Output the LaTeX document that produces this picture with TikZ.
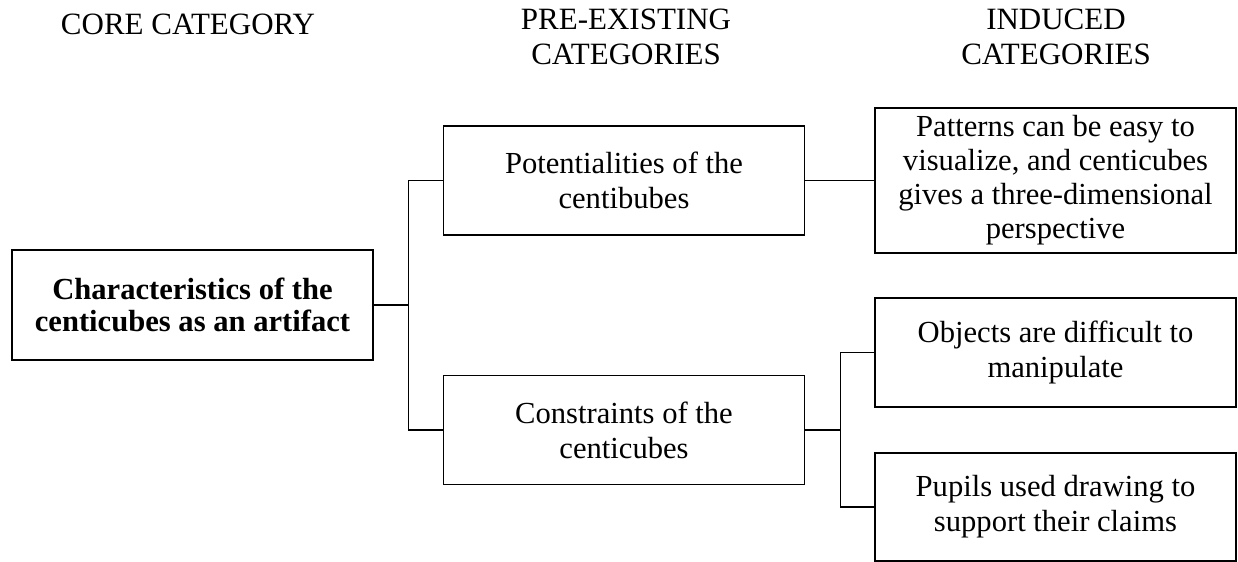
\documentclass[tikz,border=0pt]{standalone}
\usepackage{fontspec}
\setmainfont{Liberation Serif}
\usetikzlibrary{positioning}
\begin{document}
\begin{tikzpicture}[x=0.5pt,y=-0.5pt,
    box/.style={draw,line width=0.7pt,minimum width=180.5pt,minimum height=54.5pt,
      inner sep=2pt,align=center,font=\fontsize{15.3}{17.5}\selectfont},
    head/.style={align=center,font=\fontsize{15.5}{17.5}\selectfont}]
    \useasboundingbox (0,0) rectangle (1238,562);
    \node[head] (hcore) at (188,24) {CORE CATEGORY};
    \node[head] (hpre) at (626,37) {PRE-EXISTING\\CATEGORIES};
    \node[head] (hind) at (1056,37) {INDUCED\\CATEGORIES};
    \node[box,minimum height=55pt,font=\fontsize{15.3}{16}\selectfont\bfseries] (core) at (192.5,305)
      {Characteristics of the\\centicubes as an artifact};
    \node[box] (pot) at (624,180.5) {Potentialities of the\\centibubes};
    \node[box] (con) at (624,430) {Constraints of the\\centicubes};
    \node[box,minimum height=72.5pt,font=\fontsize{15.3}{17}\selectfont] (pat) at (1055.5,180.5)
      {Patterns can be easy to\\visualize, and centicubes\\gives a three-dimensional\\perspective};
    \node[box] (obj) at (1055.5,352.5) {Objects are difficult to\\manipulate};
    \node[box,minimum height=54pt] (pup) at (1055.5,507) {Pupils used drawing to\\support their claims};
    \coordinate[right=17.5pt of core.east] (j1);
    \coordinate[right=17.5pt of con.east] (j2);
    \draw[line width=0.7pt] (core.east) -- (j1) |- (pot.west);
    \draw[line width=0.7pt] (j1) |- (con.west);
    \draw[line width=0.7pt] (pot.east) -- (pat.west);
    \draw[line width=0.7pt] (con.east) -- (j2) |- (obj.west);
    \draw[line width=0.7pt] (j2) |- (pup.west);
  \end{tikzpicture}
\end{document}
